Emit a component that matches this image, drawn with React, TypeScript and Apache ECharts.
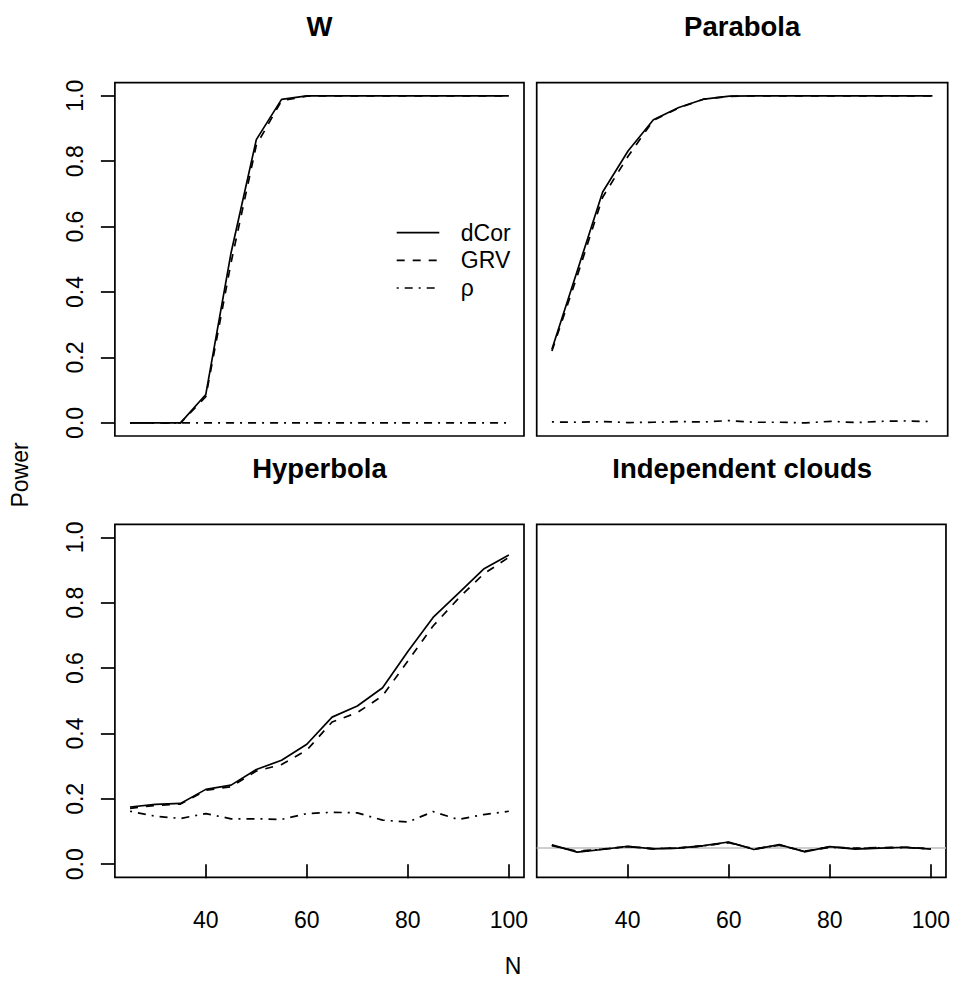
import React, { useEffect, useRef } from 'react';
import * as echarts from 'echarts';

const FONT = '"Liberation Sans", Arial, Helvetica, sans-serif';

// ---- data ----
const N = [25, 30, 35, 40, 45, 50, 55, 60, 65, 70, 75, 80, 85, 90, 95, 100];

const wDcor = [0, 0, 0, 0.087, 0.52, 0.866, 0.989, 1, 1, 1, 1, 1, 1, 1, 1, 1];
const wGrv = [0, 0, 0, 0.08, 0.49, 0.849, 0.985, 0.999, 1, 1, 1, 1, 1, 1, 1, 1];
const wRho = [0, 0, 0, 0, 0, 0, 0, 0, 0, 0, 0, 0, 0, 0, 0, 0];

const pDcor = [0.225, 0.465, 0.706, 0.831, 0.927, 0.964, 0.99, 0.999, 1, 1, 1, 1, 1, 1, 1, 1];
const pGrv = [0.22, 0.45, 0.69, 0.815, 0.925, 0.963, 0.99, 0.998, 1, 1, 1, 1, 1, 1, 1, 1];
const pRho = [0.003, 0.002, 0.004, 0.001, 0.002, 0.004, 0.003, 0.007, 0.002, 0.002, 0.0, 0.005, 0.001, 0.005, 0.006, 0.004];

const hDcor = [0.175, 0.183, 0.186, 0.229, 0.242, 0.29, 0.318, 0.367, 0.45, 0.484, 0.54, 0.651, 0.755, 0.829, 0.903, 0.946];
const hGrv = [0.171, 0.18, 0.184, 0.226, 0.237, 0.285, 0.305, 0.349, 0.435, 0.464, 0.515, 0.622, 0.729, 0.813, 0.888, 0.939];
const hRho = [0.162, 0.147, 0.14, 0.155, 0.139, 0.139, 0.137, 0.155, 0.159, 0.157, 0.135, 0.129, 0.161, 0.137, 0.152, 0.162];

const cDcor = [0.059, 0.037, 0.045, 0.055, 0.047, 0.049, 0.057, 0.068, 0.045, 0.06, 0.038, 0.054, 0.046, 0.049, 0.052, 0.046];
const cGrv = [0.057, 0.04, 0.046, 0.054, 0.047, 0.05, 0.056, 0.066, 0.047, 0.058, 0.04, 0.053, 0.049, 0.051, 0.052, 0.047];
const cRho = [0.058, 0.038, 0.046, 0.054, 0.048, 0.049, 0.056, 0.067, 0.046, 0.059, 0.039, 0.052, 0.048, 0.05, 0.051, 0.047];

const NOMINAL_LEVEL = 0.05;

const titles = ['W', 'Parabola', 'Hyperbola', 'Independent clouds'];
const seriesNames = ['dCor', 'GRV', 'ρ'];
const panelData = [
  [wDcor, wGrv, wRho],
  [pDcor, pGrv, pRho],
  [hDcor, hGrv, hRho],
  [cDcor, cGrv, cRho],
];
const xTicks = [40, 60, 80, 100];
const yTicks = [0, 0.2, 0.4, 0.6, 0.8, 1.0];

// ---- layout / style ----
const GRIDS = [
  { left: 114.9, top: 82.7, width: 409.1, height: 353.3 },
  { left: 536.7, top: 82.7, width: 411, height: 353.3 },
  { left: 114.9, top: 524.3, width: 409.1, height: 353 },
  { left: 536.7, top: 524.3, width: 411, height: 353 },
];
const LW = 1.7;
const dashTypes: any[] = ['solid', [8, 8], [2, 6, 8, 6]];
const FS = 23;

function buildOption() {
  const grid = GRIDS.map((g) => ({
    ...g,
    show: true,
    borderColor: '#000',
    borderWidth: LW,
    backgroundColor: 'transparent',
    containLabel: false,
  }));

  const xAxis = GRIDS.map((_, i) => {
    const showX = i >= 2;
    return {
      type: 'value',
      gridIndex: i,
      min: 22,
      max: 103,
      axisLine: { show: false },
      splitLine: { show: false },
      axisTick: {
        show: showX,
        length: 14,
        inside: false,
        customValues: xTicks,
        lineStyle: { color: '#000', width: LW },
      },
      axisLabel: {
        show: showX,
        customValues: xTicks,
        margin: 31,
        color: '#000',
        fontSize: FS,
        fontFamily: FONT,
        formatter: (v: number) => String(v),
      },
    };
  });

  const yAxis = GRIDS.map((_, i) => {
    const showY = i % 2 === 0;
    return {
      type: 'value',
      gridIndex: i,
      min: -0.04,
      max: 1.04,
      axisLine: { show: false },
      splitLine: { show: false },
      axisTick: {
        show: showY,
        length: 14,
        inside: false,
        customValues: yTicks,
        lineStyle: { color: '#000', width: LW },
      },
      axisLabel: {
        show: showY,
        customValues: yTicks,
        rotate: 90,
        margin: 28,
        color: '#000',
        fontSize: FS,
        fontFamily: FONT,
        formatter: (v: number) => v.toFixed(1),
      },
    };
  });

  const series: any[] = [];
  panelData.forEach((sets, i) => {
    sets.forEach((vals, k) => {
      const s: any = {
        type: 'line',
        name: seriesNames[k] + ' ' + titles[i],
        xAxisIndex: i,
        yAxisIndex: i,
        data: N.map((n, j) => [n, vals[j]]),
        symbol: 'none',
        showSymbol: false,
        silent: true,
        z: 3 + k,
        lineStyle: { color: '#000', width: LW, type: dashTypes[k] },
      };
      if (i === 3 && k === 0) {
        s.markLine = {
          silent: true,
          symbol: 'none',
          z: 2,
          label: { show: false },
          lineStyle: { color: '#bebebe', width: LW, type: 'solid' },
          data: [{ yAxis: NOMINAL_LEVEL }],
        };
      }
      series.push(s);
    });
  });

  const graphic: any[] = [];
  titles.forEach((t, i) => {
    const g = GRIDS[i];
    graphic.push({
      type: 'text',
      x: g.left + g.width / 2,
      y: g.top - 56.3,
      silent: true,
      style: {
        text: t,
        fill: '#000',
        fontSize: 27.5,
        fontWeight: 'bold',
        fontFamily: FONT,
        align: 'center',
        verticalAlign: 'middle',
      },
    });
  });
  graphic.push({
    type: 'text',
    x: 20,
    y: 475,
    rotation: Math.PI / 2,
    silent: true,
    style: { text: 'Power', fill: '#000', fontSize: FS, fontFamily: FONT, align: 'center', verticalAlign: 'middle' },
  });
  graphic.push({
    type: 'text',
    x: 513,
    y: 966,
    silent: true,
    style: { text: 'N', fill: '#000', fontSize: FS, fontFamily: FONT, align: 'center', verticalAlign: 'middle' },
  });
  const legY = [232.7, 260.3, 288];
  seriesNames.forEach((nm, k) => {
    graphic.push({
      type: 'line',
      silent: true,
      shape: { x1: 396.7, y1: legY[k], x2: 439.3, y2: legY[k] },
      style: { stroke: '#000', lineWidth: LW, lineDash: k === 0 ? null : dashTypes[k] },
    });
    graphic.push({
      type: 'text',
      x: 460.8,
      y: legY[k],
      silent: true,
      style: { text: nm, fill: '#000', fontSize: FS, fontFamily: FONT, align: 'left', verticalAlign: 'middle' },
    });
  });

  return {
    animation: false,
    backgroundColor: '#fff',
    textStyle: { fontFamily: FONT },
    grid,
    xAxis,
    yAxis,
    series,
    graphic,
  };
}

export default function App() {
  const ref = useRef<HTMLDivElement>(null);
  useEffect(() => {
    if (!ref.current) return;
    const chart = echarts.init(ref.current, null, { renderer: 'svg' });
    chart.setOption(buildOption() as any);
    return () => chart.dispose();
  }, []);
  return (
    <div
      ref={ref}
      style={{ position: 'fixed', left: 0, top: 0, width: 953, height: 990, background: '#fff' }}
    />
  );
}
